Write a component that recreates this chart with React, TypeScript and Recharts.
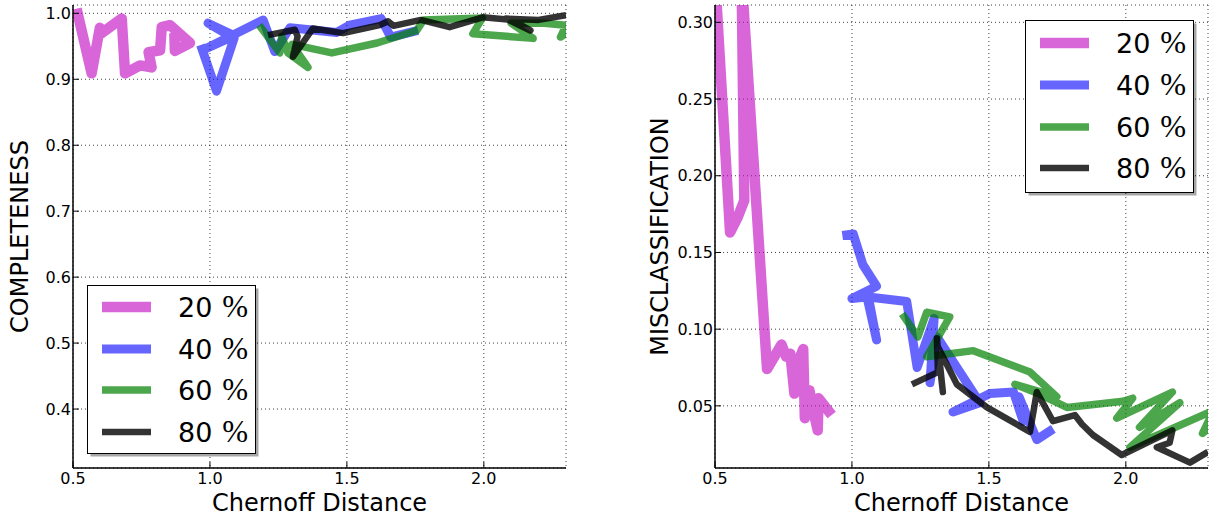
import { CartesianGrid, Line, LineChart, XAxis, YAxis } from 'recharts'

type Pt = [number, number]

const xTicks = [0.5, 1.0, 1.5, 2.0]
const completenessTicks = [0.4, 0.5, 0.6, 0.7, 0.8, 0.9, 1.0]
const misclassTicks = [0.05, 0.1, 0.15, 0.2, 0.25, 0.3]
const legendLabels = ['20', '40', '60', '80']

// completeness vs chernoff distance
const complete20: Pt[] = [
  [0.513, 1.007], [0.568, 0.909], [0.598, 0.978], [0.605, 0.97], [0.678, 0.992], [0.69, 0.909],
  [0.745, 0.921], [0.787, 0.918], [0.776, 0.941], [0.818, 0.944], [0.824, 0.979], [0.854, 0.982],
  [0.927, 0.955], [0.872, 0.943], [0.87, 0.97]
]
const complete40: Pt[] = [
  [0.966, 0.952], [1.024, 0.882], [1.088, 0.962], [0.993, 0.985], [1.09, 0.966], [0.973, 0.944],
  [1.194, 0.99], [1.237, 0.942], [1.292, 0.978], [1.463, 0.971], [1.51, 0.982], [1.625, 0.992],
  [1.66, 0.964], [1.76, 0.974]
]
const complete60: Pt[] = [
  [1.18, 0.982], [1.255, 0.94], [1.262, 0.965], [1.285, 0.94], [1.358, 0.918], [1.3, 0.953],
  [1.445, 0.94], [1.61, 0.955], [1.755, 0.974], [1.78, 0.99], [1.995, 0.993], [1.96, 0.969],
  [2.18, 0.962], [2.1, 0.985], [2.22, 0.985], [2.3, 0.982], [2.28, 0.964], [2.32, 0.975]
]
const complete80: Pt[] = [
  [1.212, 0.967], [1.31, 0.975], [1.32, 0.965], [1.303, 0.934], [1.376, 0.977], [1.486, 0.97],
  [1.62, 0.982], [1.65, 0.988], [1.67, 0.981], [1.77, 0.99], [1.875, 0.979], [1.996, 0.994],
  [2.1, 0.99], [2.17, 0.974], [2.08, 0.992], [2.2, 0.99], [2.3, 0.997]
]

// misclassification vs chernoff distance
const misclass20: Pt[] = [
  [0.5, 0.33], [0.555, 0.163], [0.583, 0.173], [0.607, 0.184], [0.597, 0.33], [0.69, 0.074],
  [0.743, 0.09], [0.76, 0.082], [0.775, 0.084], [0.79, 0.058], [0.8, 0.077], [0.822, 0.087],
  [0.828, 0.042], [0.845, 0.06], [0.86, 0.046], [0.875, 0.034], [0.878, 0.055], [0.926, 0.044]
]
const misclass40: Pt[] = [
  [0.965, 0.161], [1.005, 0.162], [1.04, 0.142], [1.09, 0.128], [1.0, 0.12], [1.055, 0.121],
  [1.09, 0.093], [1.06, 0.121], [1.2, 0.118], [1.238, 0.075], [1.3, 0.107], [1.285, 0.065],
  [1.31, 0.095], [1.467, 0.052], [1.369, 0.046], [1.504, 0.058], [1.59, 0.059], [1.625, 0.04],
  [1.61, 0.056], [1.675, 0.028], [1.735, 0.035]
]
const misclass60: Pt[] = [
  [1.183, 0.11], [1.241, 0.095], [1.273, 0.111], [1.357, 0.108], [1.273, 0.082], [1.443, 0.086],
  [1.65, 0.072], [1.748, 0.056], [1.595, 0.064], [1.68, 0.058], [1.785, 0.049], [1.99, 0.053],
  [2.025, 0.055], [1.967, 0.042], [2.17, 0.059], [2.05, 0.036], [2.197, 0.052], [2.015, 0.023],
  [2.32, 0.047], [2.28, 0.032], [2.32, 0.038]
]
const misclass80: Pt[] = [
  [1.219, 0.064], [1.314, 0.072], [1.31, 0.094], [1.332, 0.059], [1.315, 0.088], [1.383, 0.064],
  [1.493, 0.049], [1.65, 0.033], [1.675, 0.059], [1.734, 0.04], [1.814, 0.044], [1.84, 0.038],
  [1.88, 0.031], [1.985, 0.018], [2.17, 0.034], [2.16, 0.026], [2.113, 0.023], [2.234, 0.013],
  [2.3, 0.02]
]

const lineStyles = [
  { color: '#bf00bf', opacity: 0.6, width: 10.5 },
  { color: '#0000ff', opacity: 0.6, width: 9 },
  { color: '#008000', opacity: 0.7, width: 7.5 },
  { color: '#000000', opacity: 0.8, width: 6.5 }
]

const FONT = "'DejaVu Sans', sans-serif"
const tickStyle = { fill: '#000', fontSize: 16, fontFamily: FONT }
const frame = { stroke: '#000', strokeWidth: 1.5 }
const toPoints = (pts: Pt[]) => pts.map(([x, y]) => ({ x, y }))

interface PanelProps {
  width: number
  yAxisWidth: number
  marginRight: number
  series: Pt[][]
  yDomain: [number, number]
  yTicks: number[]
  yDigits: number
  yLabel: string
  yLabelX: number
}

const Panel = ({ width, yAxisWidth, marginRight, series, yDomain, yTicks, yDigits, yLabel, yLabelX }: PanelProps) => {
  const cx = (yAxisWidth + width - marginRight) / 2
  const cy = (5 + 468) / 2
  return (
    <LineChart width={width} height={518} margin={{ top: 5, right: marginRight, bottom: 0, left: 0 }}>
      <CartesianGrid stroke='#000' strokeOpacity={0.75} strokeDasharray='1 3' strokeWidth={1} />
      <XAxis
        type='number'
        dataKey='x'
        domain={[0.5, 2.3]}
        ticks={xTicks}
        allowDataOverflow
        height={50}
        tickFormatter={(v: number) => v.toFixed(1)}
        tick={tickStyle}
        tickSize={-6}
        tickMargin={11}
        axisLine={frame}
        tickLine={{ stroke: '#000' }}
        label={() => (
          <text x={cx} y={511} textAnchor='middle' fontSize={24} fontFamily={FONT} fill='#000'>
            Chernoff Distance
          </text>
        )}
      />
      <XAxis
        xAxisId='top'
        orientation='top'
        type='number'
        domain={[0.5, 2.3]}
        ticks={xTicks}
        allowDataOverflow
        height={0}
        tickFormatter={() => ''}
        tickSize={-6}
        axisLine={frame}
        tickLine={{ stroke: '#000' }}
      />
      <YAxis
        type='number'
        domain={yDomain}
        ticks={yTicks}
        allowDataOverflow
        width={yAxisWidth}
        tickFormatter={(v: number) => v.toFixed(yDigits)}
        tick={tickStyle}
        tickSize={-6}
        tickMargin={8}
        axisLine={frame}
        tickLine={{ stroke: '#000' }}
        label={() => (
          <text
            x={yLabelX}
            y={cy}
            transform={`rotate(-90 ${yLabelX} ${cy})`}
            textAnchor='middle'
            fontSize={24}
            fontFamily={FONT}
            fill='#000'
          >
            {yLabel}
          </text>
        )}
      />
      <YAxis
        yAxisId='right'
        orientation='right'
        type='number'
        domain={yDomain}
        ticks={yTicks}
        allowDataOverflow
        width={0}
        tickFormatter={() => ''}
        tickSize={-6}
        axisLine={frame}
        tickLine={{ stroke: '#000' }}
      />
      {series.map((pts, i) => (
        <Line
          key={i}
          data={toPoints(pts)}
          dataKey='y'
          type='linear'
          stroke={lineStyles[i].color}
          strokeOpacity={lineStyles[i].opacity}
          strokeWidth={lineStyles[i].width}
          strokeLinejoin='round'
          dot={false}
          activeDot={false}
          isAnimationActive={false}
        />
      ))}
    </LineChart>
  )
}

const LegendBox = ({ left, top, height, rows }: { left: number; top: number; height: number; rows: number[] }) => (
  <svg style={{ position: 'absolute', left, top }} width={174} height={height + 6}>
    <rect x={3.5} y={3.5} width={168} height={height} fill='#000' fillOpacity={0.35} />
    <rect x={0.5} y={0.5} width={168} height={height} fill='#fff' stroke='#000' strokeWidth={1} />
    {legendLabels.map((label, i) => (
      <g key={label}>
        <line
          x1={15}
          x2={64}
          y1={rows[i]}
          y2={rows[i]}
          stroke={lineStyles[i].color}
          strokeOpacity={lineStyles[i].opacity}
          strokeWidth={lineStyles[i].width}
        />
        <text x={91} y={rows[i] + 10} fontSize={27} fontFamily={FONT} fill='#000'>
          {label}
          <tspan dx={10} fontSize={31} fontFamily="'Liberation Serif', serif">%</tspan>
        </text>
      </g>
    ))}
  </svg>
)

export default function App() {
  return (
    <div style={{ position: 'absolute', left: 0, top: 0, width: 1209, height: 518, background: '#fff' }}>
      <div style={{ position: 'absolute', left: 0, top: 0 }}>
        <Panel
          width={604}
          yAxisWidth={73}
          marginRight={38}
          series={[complete20, complete40, complete60, complete80]}
          yDomain={[0.3106, 1.0126]}
          yTicks={completenessTicks}
          yDigits={1}
          yLabel='COMPLETENESS'
          yLabelX={28}
        />
      </div>
      <div style={{ position: 'absolute', left: 604, top: 0 }}>
        <Panel
          width={605}
          yAxisWidth={111}
          marginRight={1}
          series={[misclass20, misclass40, misclass60, misclass80]}
          yDomain={[0.0095, 0.3113]}
          yTicks={misclassTicks}
          yDigits={2}
          yLabel='MISCLASSIFICATION'
          yLabelX={64}
        />
      </div>
      <LegendBox left={87} top={285} height={168} rows={[22, 64, 105, 147]} />
      <LegendBox left={1025} top={20} height={172} rows={[23, 65, 107, 148]} />
    </div>
  )
}
